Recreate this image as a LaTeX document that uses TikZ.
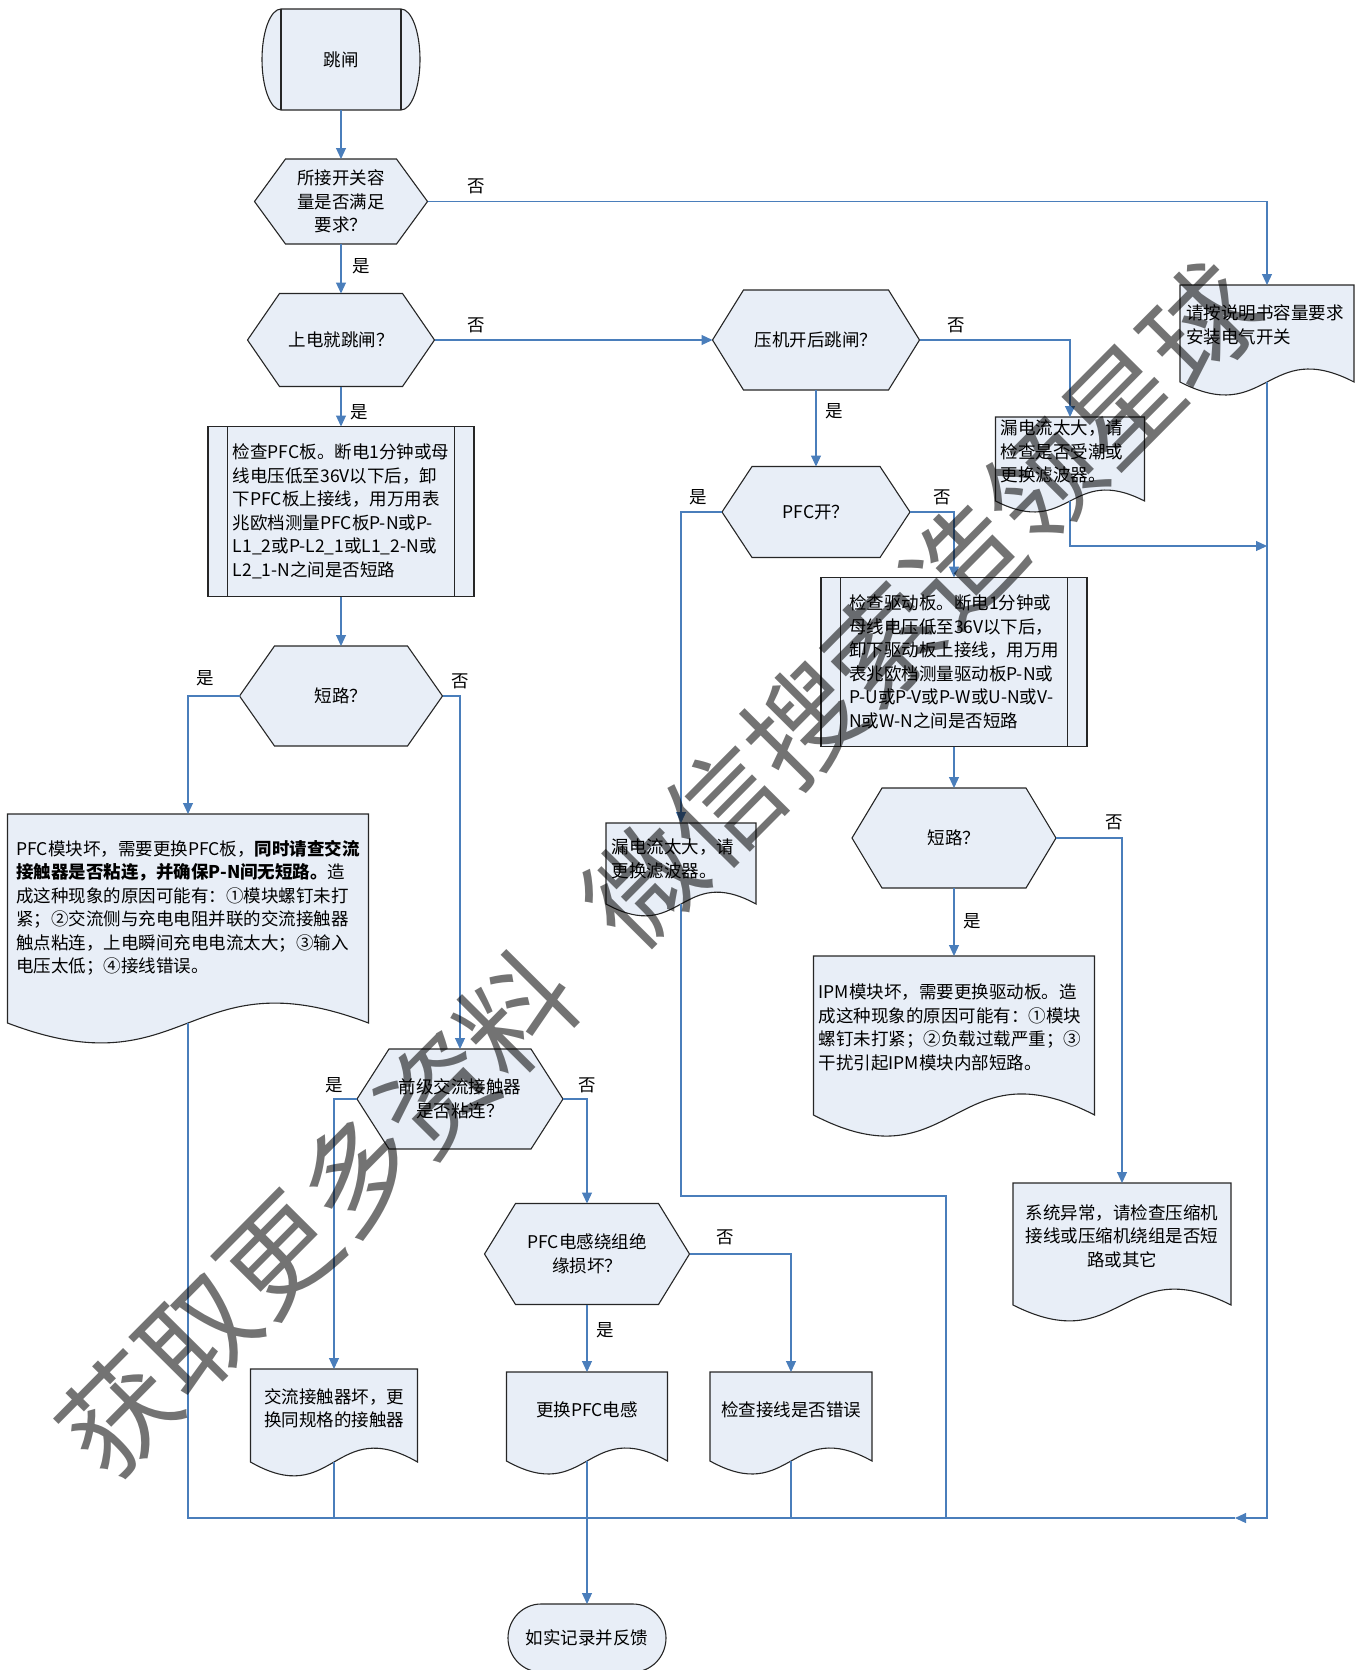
\documentclass[tikz,border=0pt]{standalone}
\usepackage{fontspec}
\setmainfont{Noto Sans CJK SC}
\usetikzlibrary{arrows.meta,backgrounds}
\definecolor{lineblue}{RGB}{74,126,187}
\definecolor{boxblue}{RGB}{232,238,247}
\tikzset{
  shapeline/.style={draw=black!85, line width=1.1pt},
  shapefill/.style={shapeline, fill=boxblue},
  flow/.style={draw=lineblue, line width=1.1pt, -{Triangle[length=11pt,width=10pt]}},
  link/.style={draw=lineblue, line width=1.1pt},
  box/.style={rectangle, inner sep=0pt, outer sep=0pt, align=center},
  note/.style={inner sep=0pt, align=left},
  ans/.style={inner sep=1pt},
}
% outlines drawn round a named node
\newcommand{\hexshape}[2]{%
  \filldraw[shapefill] (#1.west) -- ([xshift=#2]#1.north west) -- ([xshift=-#2]#1.north east)
    -- (#1.east) -- ([xshift=-#2]#1.south east) -- ([xshift=#2]#1.south west) -- cycle;}
\newcommand{\docshape}[2]{%
  \filldraw[shapefill] (#1.south west) -- (#1.north west) -- (#1.north east) -- (#1.south east)
    .. controls ([yshift=#2]#1.south) and ([yshift=-#2]#1.south) .. (#1.south west) -- cycle;}
\newcommand{\procshape}[2]{%
  \filldraw[shapefill] (#1.north west) rectangle (#1.south east);
  \draw[shapeline] ([xshift=#2]#1.north west) -- ([xshift=#2]#1.south west)
    ([xshift=-#2]#1.north east) -- ([xshift=-#2]#1.south east);}
\newcommand{\termshape}[3]{%
  \filldraw[shapefill] (#1.north west) -- (#1.north east)
    arc[start angle=90, end angle=-90, x radius=#2, y radius=#3] -- (#1.south west)
    arc[start angle=270, end angle=90, x radius=#2, y radius=#3] -- cycle;}
\begin{document}
\begin{tikzpicture}[x=1pt,y=-1pt,font=\fontsize{17.5}{23.5}\selectfont]
  \useasboundingbox (0,0) rectangle (1364,1670);
  %%% nodes
  \node[box, minimum width=120pt, minimum height=101pt] (start) at (341,59.5) {跳闸};
  \node[box, minimum width=173pt, minimum height=85pt] (cap) at (341,201.5) {所接开关容\\量是否满足\\要求？};
  \node[box, minimum width=187pt, minimum height=93pt] (poweron) at (341,340) {上电就跳闸？};
  \node[box, minimum width=207pt, minimum height=100pt] (comp) at (816,340) {压机开后跳闸？};
  \node[box, minimum width=174pt, minimum height=97pt] (manual) at (1267,333.5) {};
  \node[box, minimum width=149pt, minimum height=84pt] (leak1) at (1070,459) {};
  \node[box, minimum width=188pt, minimum height=91pt] (pfcon) at (816,512) {PFC开？};
  \node[box, align=left, minimum width=266pt, minimum height=170pt] (pfccheck) at (341,511.5)
    {检查PFC板。断电1分钟或母\\线电压低至36V以下后，卸\\下PFC板上接线，用万用表\\兆欧档测量PFC板P-N或P-\\L1\_2或P-L2\_1或L1\_2-N或\\L2\_1-N之间是否短路};
  \node[box, minimum width=203pt, minimum height=100pt] (short1) at (341,696) {短路？};
  \node[box, align=left, minimum width=266pt, minimum height=169pt] (drvcheck) at (954,662)
    {检查驱动板。断电1分钟或\\母线电压低至36V以下后，\\卸下驱动板上接线，用万用\\表兆欧档测量驱动板P-N或\\P-U或P-V或P-W或U-N或V-\\N或W-N之间是否短路};
  \node[box, minimum width=150pt, minimum height=81pt] (leak2) at (681,863.5) {};
  \node[box, minimum width=204pt, minimum height=100pt] (short2) at (954,838) {短路？};
  \node[box, minimum width=361pt, minimum height=209pt] (pfcbad) at (188,918.5) {};
  \node[box, minimum width=281pt, minimum height=159pt] (ipmbad) at (954,1035.5) {};
  \node[box, minimum width=206pt, minimum height=100pt] (contact) at (460,1099) {前级交流接触器\\是否粘连？};
  \node[box, minimum width=218pt, minimum height=122pt] (sysfault) at (1122,1244) {};
  \node[box, minimum width=205pt, minimum height=101pt] (induct) at (587,1254) {PFC电感绕组绝\\缘损坏？};
  \node[box, minimum width=167pt, minimum height=93pt] (contactbad) at (334,1415.5) {};
  \node[box, minimum width=161pt, minimum height=89pt] (newinduct) at (587,1416.5) {};
  \node[box, minimum width=162pt, minimum height=89pt] (wiring) at (791,1416.5) {};
  \node[box, minimum width=92pt, minimum height=68pt] (record) at (587,1638) {};
  %%% texts of the document boxes
  \node[note] (manualtxt) at (1265,325) {请按说明书容量要求\\安装电气开关};
  \node[note] (leak1txt) at (1062,451.5) {漏电流太大，请\\检查是否受潮或\\更换滤波器。};
  \node[note] (leak2txt) at (673,859) {漏电流太大，请\\更换滤波器。};
  \node[note] (pfcbadtxt) at (188,908) {PFC模块坏，需要更换PFC板，\textbf{同时请查交流}\\\textbf{接触器是否粘连，并确保P-N间无短路。}造\\成这种现象的原因可能有：①模块螺钉未打\\紧；②交流侧与充电电阻并联的交流接触器\\触点粘连，上电瞬间充电电流太大；③输入\\电压太低；④接线错误。};
  \node[note] (ipmtxt) at (950,1027.5) {IPM模块坏，需要更换驱动板。造\\成这种现象的原因可能有：①模块\\螺钉未打紧；②负载过载严重；③\\干扰引起IPM模块内部短路。};
  \node[note, align=center] (sysfaulttxt) at (1122,1236) {系统异常，请检查压缩机\\接线或压缩机绕组是否短\\路或其它};
  \node[note] (contactbadtxt) at (334,1408.5) {交流接触器坏，更\\换同规格的接触器};
  \node[note] (newinducttxt) at (587,1410) {更换PFC电感};
  \node[note] (wiringtxt) at (791,1410) {检查接线是否错误};
  \node[note] (recordtxt) at (587,1638) {如实记录并反馈};
  %%% outlines
  \begin{scope}[on background layer]
    \termshape{start}{19pt}{50.5pt}
    \draw[shapeline] (start.north west) -- (start.south west) (start.north east) -- (start.south east);
    \hexshape{cap}{31pt}
    \hexshape{poweron}{32pt}
    \hexshape{comp}{31pt}
    \docshape{manual}{45pt}
    \docshape{leak1}{38pt}
    \hexshape{pfcon}{30pt}
    \procshape{pfccheck}{19.5pt}
    \hexshape{short1}{35pt}
    \procshape{drvcheck}{19.5pt}
    \docshape{leak2}{41pt}
    \hexshape{short2}{30pt}
    \docshape{pfcbad}{69pt}
    \docshape{ipmbad}{73pt}
    \hexshape{contact}{32pt}
    \docshape{sysfault}{55pt}
    \hexshape{induct}{31pt}
    \docshape{contactbad}{48pt}
    \docshape{newinduct}{45pt}
    \docshape{wiring}{45pt}
    \termshape{record}{33pt}{34pt}
  \end{scope}
  %%% connectors
  \draw[flow] (start.south) -- (cap.north);
  \draw[flow] (cap.east) -| (manual.north);
  \draw[flow] (cap.south) -- (poweron.north);
  \draw[flow] (poweron.east) -- (comp.west);
  \draw[flow] (poweron.south) -- (pfccheck.north);
  \draw[flow] (comp.east) -| (leak1.north);
  \draw[flow] (comp.south) -- (pfcon.north);
  \coordinate (leakjoin) at (1267,546);
  \draw[flow] (leak1.south) |- (leakjoin);
  \draw[flow] (pfcon.west) -| (leak2.north);
  \draw[flow] (pfcon.east) -| (drvcheck.north);
  \draw[flow] (pfccheck.south) -- (short1.north);
  \draw[flow] (short1.west) -| (pfcbad.north);
  \draw[flow] (short1.east) -| (contact.north);
  \draw[flow] (drvcheck.south) -- (short2.north);
  \draw[flow] (short2.east) -| (sysfault.north);
  \draw[flow] (short2.south) -- (ipmbad.north);
  \draw[flow] (contact.west) -| (contactbad.north);
  \draw[flow] (contact.east) -| (induct.north);
  \draw[flow] (induct.south) -- (newinduct.north);
  \draw[flow] (induct.east) -| (wiring.north);
  % all ends meet at the bottom line
  \coordinate (join) at (587,1518);
  \coordinate (leakbend) at (946,1196);
  \coordinate (busarrow) at (1235,1518);
  \draw[link] (leak2.south) |- (leakbend) |- (join);
  \draw[link] (pfcbad.south) |- (join);
  \draw[link] (contactbad.south) |- (join);
  \draw[link] (wiring.south) |- (join);
  \draw[flow] (manual.south) |- (busarrow);
  \draw[link] (busarrow) -- (join);
  \draw[flow] (newinduct.south) -- (record.north);
  %%% yes / no
  \node[ans] (no1) at (476,186) {否};
  \node[ans] (yes1) at (361,266) {是};
  \node[ans] (no2) at (476,325) {否};
  \node[ans] (yes2) at (359,412) {是};
  \node[ans] (no3) at (956,325) {否};
  \node[ans] (yes3) at (834,411) {是};
  \node[ans] (yes4) at (698,497) {是};
  \node[ans] (no4) at (942,497) {否};
  \node[ans] (yes5) at (205,678) {是};
  \node[ans] (no5) at (460,681) {否};
  \node[ans] (no6) at (1114,822) {否};
  \node[ans] (yes6) at (972,921) {是};
  \node[ans] (yes7) at (334,1085) {是};
  \node[ans] (no7) at (587,1085) {否};
  \node[ans] (no8) at (725,1237) {否};
  \node[ans] (yes8) at (605,1330) {是};
  %%% watermark
  \node[rotate=45.2, text=black, text opacity=0.55, font=\fontsize{113}{113}\selectfont] (mark) at (660,869)
    {获取更多资料\hspace{0.6em}微信搜索造领星球};
\end{tikzpicture}
\end{document}
